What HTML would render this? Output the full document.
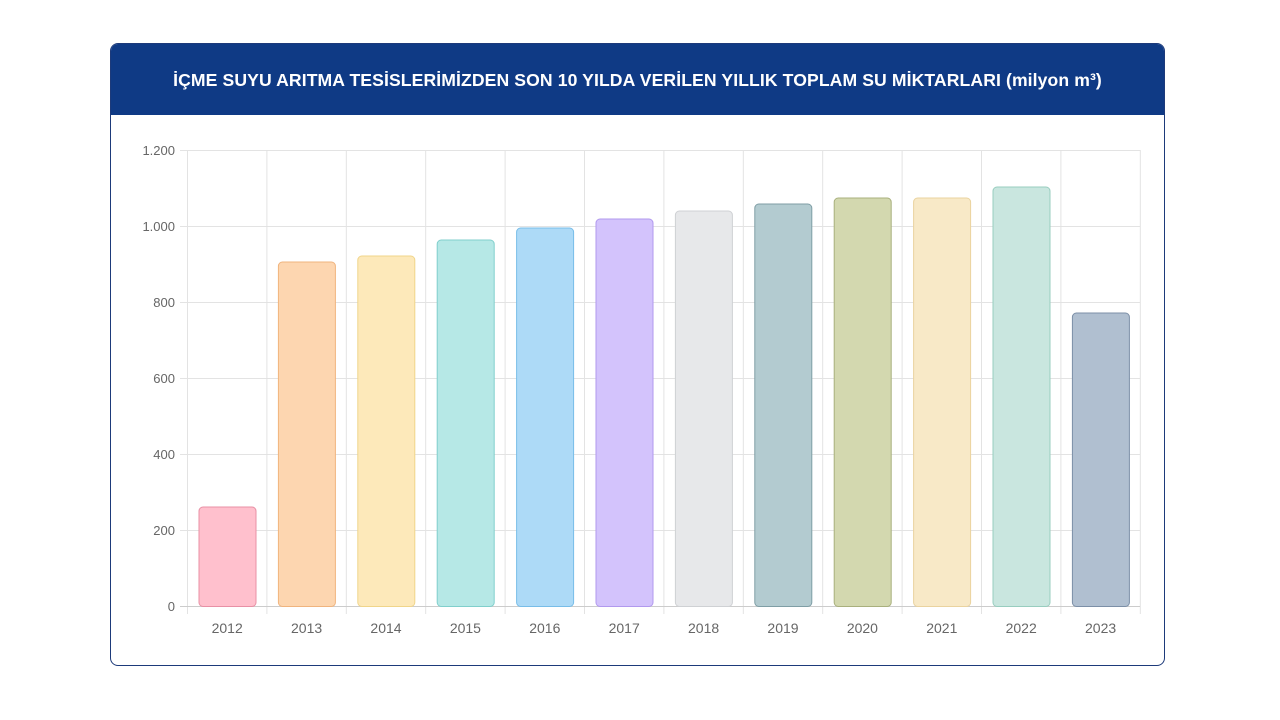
<!DOCTYPE html>
<html><head><meta charset="utf-8"><style>
html,body{margin:0;padding:0;background:#fff;width:1280px;height:720px;overflow:hidden;font-family:"Liberation Sans",sans-serif}
.card{position:absolute;left:110px;top:43px;width:1053px;height:621px;border:1.5px solid #1d3a7a;border-radius:8px;overflow:hidden;background:#fff}
.hdr{height:71px;background:#0f3a85;color:#fff;font-weight:bold;font-size:17.6px;text-align:center;line-height:72px;letter-spacing:0.1px}
svg{position:absolute;left:0;top:0}
</style></head><body>
<div class="card"><div class="hdr">İÇME SUYU ARITMA TESİSLERİMİZDEN SON 10 YILDA VERİLEN YILLIK TOPLAM SU MİKTARLARI (milyon m³)</div></div>
<svg width="1280" height="720" font-family="Liberation Sans, sans-serif" font-size="13" fill="#666">
<g stroke="#e3e3e3" stroke-width="1">
<line x1="180" x2="1140" y1="150.5" y2="150.5"/><line x1="180" x2="1140" y1="226.5" y2="226.5"/><line x1="180" x2="1140" y1="302.5" y2="302.5"/><line x1="180" x2="1140" y1="378.5" y2="378.5"/><line x1="180" x2="1140" y1="454.5" y2="454.5"/><line x1="180" x2="1140" y1="530.5" y2="530.5"/>
<line x1="187.5" x2="187.5" y1="150" y2="614"/><line x1="266.9" x2="266.9" y1="150" y2="614"/><line x1="346.3" x2="346.3" y1="150" y2="614"/><line x1="425.7" x2="425.7" y1="150" y2="614"/><line x1="505.1" x2="505.1" y1="150" y2="614"/><line x1="584.5" x2="584.5" y1="150" y2="614"/><line x1="663.9" x2="663.9" y1="150" y2="614"/><line x1="743.3" x2="743.3" y1="150" y2="614"/><line x1="822.7" x2="822.7" y1="150" y2="614"/><line x1="902.1" x2="902.1" y1="150" y2="614"/><line x1="981.5" x2="981.5" y1="150" y2="614"/><line x1="1060.9" x2="1060.9" y1="150" y2="614"/><line x1="1140.3" x2="1140.3" y1="150" y2="614"/>
</g>
<line x1="180" x2="1140" y1="606.5" y2="606.5" stroke="#ccc"/>
<g text-anchor="end">
<text x="175" y="155">1.200</text><text x="175" y="231">1.000</text><text x="175" y="307">800</text><text x="175" y="383">600</text><text x="175" y="459">400</text><text x="175" y="535">200</text><text x="175" y="611">0</text>
</g>
<g stroke-width="1">
<rect x="199" y="507" width="57" height="99.5" rx="4" fill="#ffc0cd" stroke="#e890a5"/>
<rect x="278.4" y="262" width="57" height="344.5" rx="4" fill="#fdd6b0" stroke="#f0b47e"/>
<rect x="357.8" y="256" width="57" height="350.5" rx="4" fill="#fde9ba" stroke="#f0d58a"/>
<rect x="437.2" y="240" width="57" height="366.5" rx="4" fill="#b6e8e6" stroke="#80cfcc"/>
<rect x="516.6" y="228" width="57" height="378.5" rx="4" fill="#addaf7" stroke="#78bde8"/>
<rect x="596" y="219" width="57" height="387.5" rx="4" fill="#d3c3fc" stroke="#b199ee"/>
<rect x="675.4" y="211" width="57" height="395.5" rx="4" fill="#e7e8ea" stroke="#cfd1d4"/>
<rect x="754.8" y="204" width="57" height="402.5" rx="4" fill="#b3cbd0" stroke="#7f9ea5"/>
<rect x="834.2" y="198" width="57" height="408.5" rx="4" fill="#d3d8af" stroke="#a9b07d"/>
<rect x="913.6" y="198" width="57" height="408.5" rx="4" fill="#f8e9c7" stroke="#ead39f"/>
<rect x="993" y="187" width="57" height="419.5" rx="4" fill="#c9e6df" stroke="#98cdbf"/>
<rect x="1072.4" y="313" width="57" height="293.5" rx="4" fill="#b0bfd0" stroke="#7c8fa7"/>
</g>
<g text-anchor="middle" font-size="14">
<text x="227.2" y="633">2012</text><text x="306.6" y="633">2013</text><text x="386" y="633">2014</text><text x="465.4" y="633">2015</text><text x="544.8" y="633">2016</text><text x="624.2" y="633">2017</text><text x="703.6" y="633">2018</text><text x="783" y="633">2019</text><text x="862.4" y="633">2020</text><text x="941.8" y="633">2021</text><text x="1021.2" y="633">2022</text><text x="1100.6" y="633">2023</text>
</g>
</svg>
</body></html>
